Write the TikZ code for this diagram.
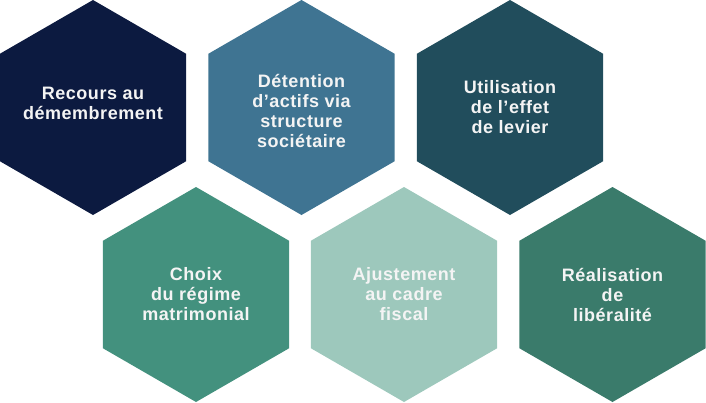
\documentclass[tikz,border=0pt]{standalone}
\usepackage{fontspec}
\setmainfont{Liberation Sans}
\newfontfamily\hexfont[LetterSpace=3]{Liberation Sans}
\usetikzlibrary{shapes.geometric}
\definecolor{hexnavy}{HTML}{0C1A40}
\definecolor{hexsteel}{HTML}{3F7492}
\definecolor{hexpetrol}{HTML}{214D5C}
\definecolor{hexteal}{HTML}{43917E}
\definecolor{hexmint}{HTML}{9DC8BC}
\definecolor{hexgreen}{HTML}{3A7B6B}
\definecolor{hextext}{HTML}{F4F4F4}

\begin{document}
\begin{tikzpicture}[x=1pt, y=-1pt,
    hexa/.style={regular polygon, regular polygon sides=6, shape border rotate=30,
                 fill=#1, minimum size=215pt, inner sep=0pt, outer sep=0pt},
    hexlabel/.style={align=center, text=hextext, inner sep=0pt,
                 font=\hexfont\bfseries\fontsize{18}{20}\selectfont}]
  \useasboundingbox (0,0) rectangle (706,402);
  %% Top row
  \node[hexa=hexnavy] (h1) at (93,107.5) {};
  \node[hexlabel, yshift=4pt] (t1) at (h1) {Recours au\\d\'emembrement};
  \node[hexa=hexsteel] (h2) at (301.5,107.5) {};
  \node[hexlabel, yshift=-3pt] (t2) at (h2) {D\'etention\\d’actifs via\\structure\\soci\'etaire};
  \node[hexa=hexpetrol] (h3) at (510,107.5) {};
  \node[hexlabel] (t3) at (h3) {Utilisation\\de l’effet\\de levier};
  %% Bottom row
  \node[hexa=hexteal] (h4) at (196,294.5) {};
  \node[hexlabel] (t4) at (h4) {Choix\\du r\'egime\\matrimonial};
  \node[hexa=hexmint] (h5) at (404,294.5) {};
  \node[hexlabel] (t5) at (h5) {Ajustement\\au cadre\\fiscal};
  \node[hexa=hexgreen] (h6) at (612.5,294.5) {};
  \node[hexlabel] (t6) at (h6) {R\'ealisation\\de\\lib\'eralit\'e};
\end{tikzpicture}
\end{document}
